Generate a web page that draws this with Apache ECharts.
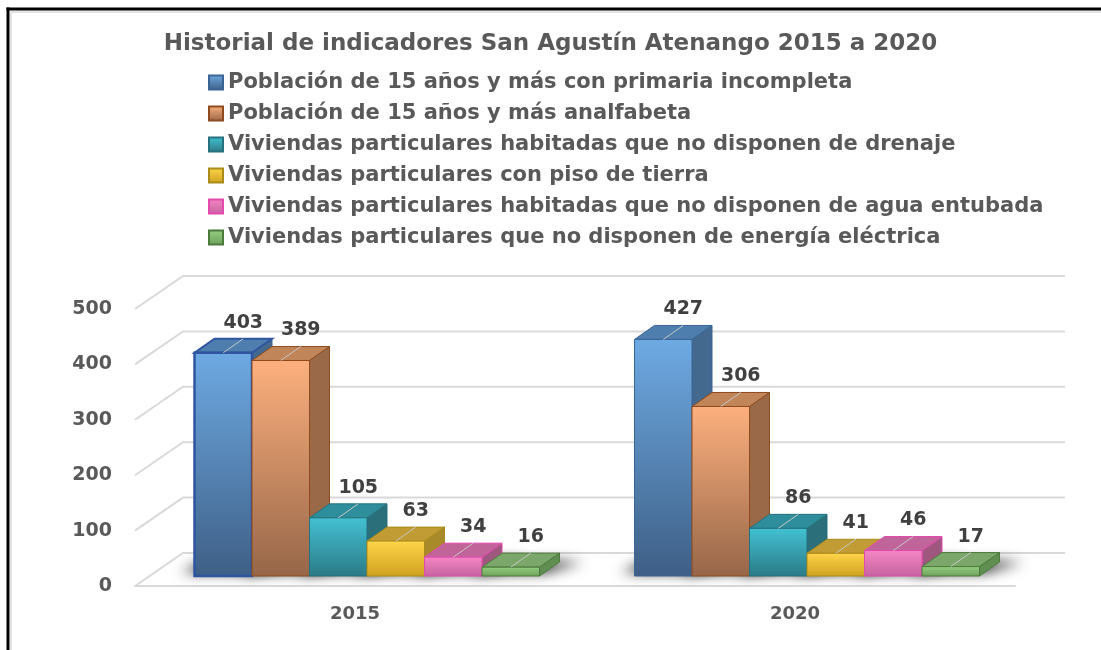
<!DOCTYPE html>
<html>
<head>
	<meta charset="utf-8">
	<title>Historial de indicadores</title>
	<style type="text/css">
		body{
			margin: 0px;
			background: #fff;
			overflow: hidden;
		}
		.chart{
			width: 1101px;
			height: 650px;
		}
	</style>
	<script type="text/javascript" src="https://cdn.jsdelivr.net/npm/echarts@6/dist/echarts.min.js"></script>
</head>
<body>
	<div id="chart" class="chart"></div>
	<script type="text/javascript">
		var years = ['2015', '2020'];
		var names = [
			'Población de 15 años y más con primaria incompleta',
			'Población de 15 años y más analfabeta',
			'Viviendas particulares habitadas que no disponen de drenaje',
			'Viviendas particulares con piso de tierra',
			'Viviendas particulares habitadas que no disponen de agua entubada',
			'Viviendas particulares que no disponen de energía eléctrica'
		];
		var primaria = [403, 427];
		var analfabeta = [389, 306];
		var drenaje = [105, 86];
		var piso = [63, 41];
		var agua = [34, 46];
		var energia = [16, 17];
		var yTicks = [0, 100, 200, 300, 400, 500];

		var values = [primaria, analfabeta, drenaje, piso, agua, energia];

		// colores: frente (arriba, abajo), cara superior, cara lateral, borde
		var palette = [
			{top: '#6EAAE3', bottom: '#3E5F86', lid: '#4E7EAD', side: '#44698F', border: '#3A6496'},
			{top: '#FDB07E', bottom: '#966648', lid: '#C1855A', side: '#9A6A48', border: '#8E4A1C'},
			{top: '#43C1D3', bottom: '#2B7A86', lid: '#2F8E9B', side: '#2A6F79', border: '#25707C'},
			{top: '#FFD54A', bottom: '#CFA21E', lid: '#C19B34', side: '#A88A2A', border: '#A88B1A'},
			{top: '#F686C6', bottom: '#C4639D', lid: '#C0649A', side: '#A0577F', border: '#E24AAE'},
			{top: '#93CF7E', bottom: '#6E9F5C', lid: '#7BA86A', side: '#5F8E50', border: '#4B7A3A'}
		];

		var FONT = 'DejaVu Sans';
		var BAR_W = 57.5;
		var FRONT_DX = 12, FRONT_DY = -10;   // posicion de la cara frontal respecto al plano delantero
		var DX = 20, DY = -14;               // profundidad de la barra
		var WALL_DX = 48, WALL_DY = -33;     // profundidad de la pared
		var FAR = 3000;                      // la sombra se dibuja fuera y se trae con shadowOffsetX

		function grad(c){
			return new echarts.graphic.LinearGradient(0, 0, 0, 1, [
				{offset: 0, color: c.top},
				{offset: 1, color: c.bottom}
			]);
		}

		function barRenderer(si){
			return function(params, api){
				var cat = api.value(0), val = api.value(1);
				var base = api.coord([cat, 0]);
				var c = palette[si];
				var x0 = base[0] - BAR_W * 3 + si * BAR_W + FRONT_DX;
				var y0 = base[1] + FRONT_DY;
				var yTop = api.coord([cat, val])[1] + FRONT_DY;
				var x1 = x0 + BAR_W;
				var strong = (si === 0 && cat === 0);
				return {
					type: 'group',
					children: [{
						type: 'polygon',
						z2: -10,
						shape: {points: [
							[x0 - 14 - FAR, y0 - 4], [x1 + 4 - FAR, y0 - 4],
							[x1 + DX + 24 - FAR, y0 + DY], [x0 + DX - 8 - FAR, y0 + DY]
						]},
						style: {
							fill: '#000',
							shadowBlur: 13,
							shadowOffsetX: FAR,
							shadowColor: 'rgba(0,0,0,1)'
						},
						silent: true
					}, {
						type: 'polygon',
						shape: {points: [[x1, yTop], [x1 + DX, yTop + DY], [x1 + DX, y0 + DY], [x1, y0]]},
						style: {fill: c.side, stroke: c.border, lineWidth: 1}
					}, {
						type: 'polygon',
						shape: {points: [[x0, yTop], [x1, yTop], [x1 + DX, yTop + DY], [x0 + DX, yTop + DY]]},
						style: {fill: c.lid, stroke: strong ? '#2F54A0' : c.border, lineWidth: strong ? 2 : 1}
					}, {
						type: 'rect',
						shape: {x: x0, y: yTop, width: BAR_W, height: y0 - yTop},
						style: {fill: grad(c), stroke: strong ? '#2F54A0' : c.border, lineWidth: strong ? 2.5 : 1}
					}, {
						type: 'line',
						shape: {x1: x0 + BAR_W / 2, y1: yTop, x2: x0 + BAR_W / 2 + DX, y2: yTop + DY},
						style: {stroke: '#c8c8c8', lineWidth: 1}
					}, {
						type: 'text',
						z2: 100,
						style: {
							text: String(val),
							x: x0 + BAR_W / 2 + DX,
							y: yTop + DY - 16,
							align: 'center',
							verticalAlign: 'middle',
							fill: '#404040',
							font: 'bold 19px "' + FONT + '"'
						}
					}]
				};
			};
		}

		function wallRenderer(params, api){
			var cs = params.coordSys;
			var v = api.value(1);
			var y = api.coord([0, v])[1];
			var xl = cs.x, xr = cs.x + cs.width;
			return {
				type: 'polyline',
				shape: {points: [[xl, y], [xl + WALL_DX, y + WALL_DY], [xr + WALL_DX + 2, y + WALL_DY]]},
				style: {stroke: '#d9d9d9', lineWidth: 2, fill: null}
			};
		}

		window.onload = function(){
			var chart = echarts.init(document.getElementById('chart'));
			var series = [{
				name: 'walls',
				type: 'custom',
				silent: true,
				z: 1,
				renderItem: wallRenderer,
				data: yTicks.map(function(t){ return [0, t]; })
			}];
			for(var i = 0; i < names.length; i++){
				series.push({
					name: names[i],
					type: 'custom',
					z: 2,
					renderItem: barRenderer(i),
					itemStyle: {
						color: grad(palette[i]),
						borderColor: palette[i].border,
						borderWidth: 1
					},
					data: values[i].map(function(v, k){ return [k, v]; })
				});
			}
			chart.setOption({
				backgroundColor: '#fff',
				animation: false,
				title: {
					text: 'Historial de indicadores San Agustín Atenango 2015 a 2020',
					left: 'center',
					top: 30,
					padding: 0,
					textStyle: {
						fontFamily: FONT,
						fontSize: 23,
						fontWeight: 'bold',
						color: '#595959',
						lineHeight: 28
					}
				},
				legend: {
					data: names,
					orient: 'vertical',
					left: 208,
					top: 72,
					padding: 0,
					itemGap: 10,
					itemWidth: 14,
					itemHeight: 14,
					icon: 'rect',
					textStyle: {
						fontFamily: FONT,
						fontSize: 21,
						fontWeight: 'bold',
						color: '#595959',
						lineHeight: 21
					}
				},
				grid: {
					left: 135,
					right: 86,
					top: 309,
					bottom: 64
				},
				xAxis: {
					type: 'category',
					data: years,
					axisLine: {
						lineStyle: {
							color: '#d9d9d9',
							width: 2
						}
					},
					axisTick: {
						show: false
					},
					axisLabel: {
						margin: 19,
						fontFamily: FONT,
						fontSize: 18,
						fontWeight: 'bold',
						color: '#595959'
					}
				},
				yAxis: {
					type: 'value',
					min: 0,
					max: 500,
					interval: 100,
					axisLine: {
						show: false
					},
					axisTick: {
						show: false
					},
					splitLine: {
						show: false
					},
					axisLabel: {
						margin: 23,
						fontFamily: FONT,
						fontSize: 19,
						fontWeight: 'bold',
						color: '#595959'
					}
				},
				graphic: [{
					type: 'line',
					shape: {x1: 11, y1: 12, x2: 11, y2: 660},
					style: {stroke: '#e3e3e3', lineWidth: 2},
					silent: true
				}, {
					type: 'line',
					shape: {x1: 11, y1: 12, x2: 1101, y2: 12},
					style: {stroke: '#e3e3e3', lineWidth: 2},
					silent: true
				}, {
					type: 'line',
					shape: {x1: 8, y1: 7.5, x2: 8, y2: 660},
					style: {stroke: '#000', lineWidth: 3},
					silent: true
				}, {
					type: 'line',
					shape: {x1: 6.5, y1: 9, x2: 1101, y2: 9},
					style: {stroke: '#000', lineWidth: 3},
					silent: true
				}],
				series: series
			});
		};
	</script>
</body>
</html>
